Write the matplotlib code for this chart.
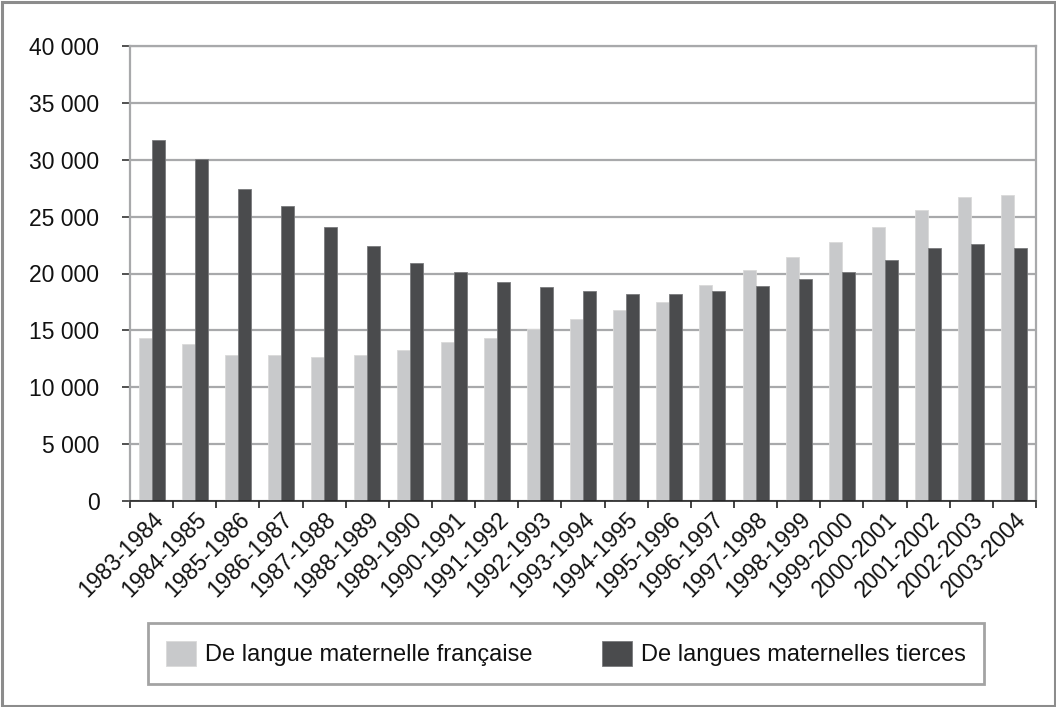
import matplotlib
matplotlib.use("Agg")
import matplotlib.pyplot as plt
from matplotlib.patches import Rectangle
from matplotlib.ticker import FuncFormatter, FixedLocator
import matplotlib.transforms as mtransforms
import numpy as np

plt.rcParams['font.family'] = ['Liberation Sans', 'DejaVu Sans']

categories = ["1983-1984", "1984-1985", "1985-1986", "1986-1987", "1987-1988",
              "1988-1989", "1989-1990", "1990-1991", "1991-1992", "1992-1993",
              "1993-1994", "1994-1995", "1995-1996", "1996-1997", "1997-1998",
              "1998-1999", "1999-2000", "2000-2001", "2001-2002", "2002-2003",
              "2003-2004"]
francaise = [14360, 13770, 12830, 12830, 12650, 12830, 13240, 13970, 14360, 15090,
             16030, 16770, 17530, 19030, 20350, 21440, 22760, 24080, 25580, 26700,
             26900]
tierces = [31700, 30040, 27430, 25930, 24050, 22380, 20880, 20120, 19210, 18820,
           18440, 18240, 18240, 18440, 18940, 19530, 20110, 21230, 22200, 22550,
           22200]
series_labels = ["De langue maternelle française", "De langues maternelles tierces"]
yticks = [0, 5000, 10000, 15000, 20000, 25000, 30000, 35000, 40000]

LIGHT = "#C8C9CB"
DARK = "#4A4B4D"
GRID = "#A8A9AB"
TXT = "#111111"

W, H = 1056, 707
fig = plt.figure(figsize=(W / 100, H / 100), dpi=100)
fig.patch.set_facecolor("white")
ax = fig.add_axes([130 / W, 1 - 501 / H, (1036 - 130) / W, (501 - 46) / H])

x = np.arange(len(categories))
bw = 0.3
b1 = ax.bar(x - bw / 2, francaise, width=bw, color=LIGHT, edgecolor="#DADADA",
            linewidth=0.6, label=series_labels[0], zorder=3)
b2 = ax.bar(x + bw / 2, tierces, width=bw, color=DARK, edgecolor="#7A7B7D",
            linewidth=0.6, label=series_labels[1], zorder=3)

ax.set_xlim(-0.5, len(categories) - 0.5)
ax.set_ylim(0, 40000)
ax.set_yticks(yticks)
ax.yaxis.set_major_formatter(FuncFormatter(lambda v, p: f"{int(v):,}".replace(",", " ")))
ax.grid(axis="y", color=GRID, linewidth=1.6, zorder=0)
ax.set_axisbelow(True)

ax.set_xticks(x)
ax.set_xticklabels(categories, rotation=45, ha="right", va="top",
                   rotation_mode="anchor", fontsize=16.5, color=TXT)
offset = mtransforms.ScaledTranslation(5 / 100, 0, fig.dpi_scale_trans)
for lab in ax.get_xticklabels():
    lab.set_transform(lab.get_transform() + offset)
ax.tick_params(axis="x", which="major", length=0, pad=5)
ax.xaxis.set_minor_locator(FixedLocator(np.arange(-0.5, len(categories), 1.0)))
ax.tick_params(axis="x", which="minor", length=5, width=1.2, color="#222222")
ax.tick_params(axis="y", length=6, width=1.2, color="#333333", labelsize=16.5,
               labelcolor=TXT, pad=16)

for s in ["left", "right", "top"]:
    ax.spines[s].set_color(GRID)
    ax.spines[s].set_linewidth(1.6)
ax.spines["bottom"].set_color("#222222")
ax.spines["bottom"].set_linewidth(1.2)
ax.spines["bottom"].set_zorder(4)

leg = fig.legend(handles=[b1, b2], labels=series_labels, ncol=2,
                 loc="center", mode="expand",
                 bbox_to_anchor=(148 / W, 1 - 681 / H, (984 - 148) / W, 55 / H),
                 frameon=True, fancybox=False, fontsize=17,
                 handlelength=1.27, handleheight=1.27, handletextpad=0.4,
                 borderpad=0.75, borderaxespad=0)
leg.get_frame().set_edgecolor("#8C8C8C")
leg.get_frame().set_linewidth(2.0)
for t in leg.get_texts():
    t.set_color(TXT)

fig.add_artist(Rectangle((1.5 / W, 1.5 / H), (W - 3) / W, (H - 3) / H,
                         transform=fig.transFigure, fill=False,
                         edgecolor="#8C8C8C", linewidth=2.2))

fig.savefig("out.png", dpi=100, facecolor="white")
